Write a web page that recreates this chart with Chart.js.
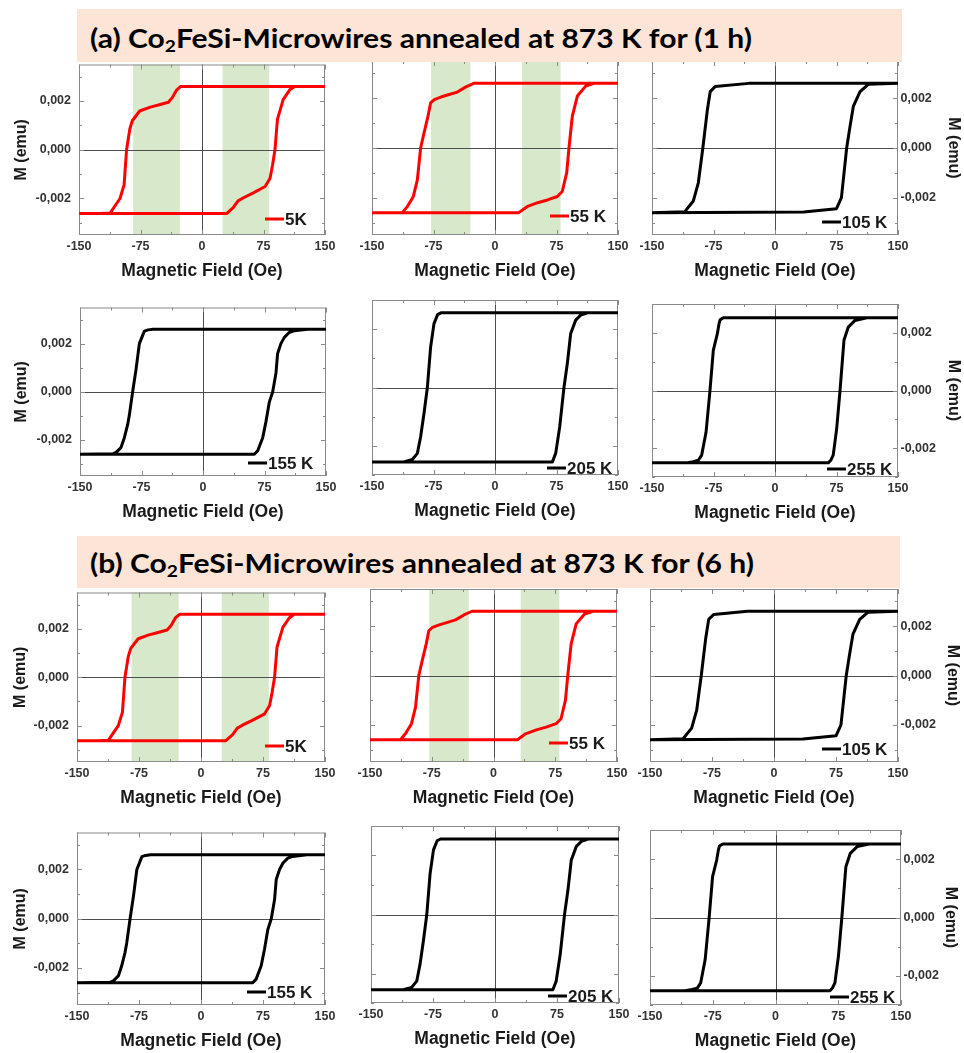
<!DOCTYPE html>
<html>
<head>
<meta charset="utf-8">
<script src="https://cdn.jsdelivr.net/npm/chart.js@4.4.1/dist/chart.umd.min.js"></script>
<style>
html, body { margin: 0; padding: 0; background: #fff; overflow: hidden; }
#page { position: relative; width: 964px; height: 1053px; }
canvas { position: absolute; z-index: 1; }
.band { position: absolute; background: #fce4d6; z-index: 2; }
.band span { position: absolute; left: 13px; font-family: Lato, 'Open Sans', sans-serif; font-weight: 700;
  font-size: 27px; line-height: 27px; white-space: nowrap; color: #000; transform-origin: 0 50%; }
.band sub { font-size: 0.64em; vertical-align: -0.22em; line-height: 0; }
</style>
</head>
<body>
<div id="page">
  <div class="band" style="left:77px;top:9px;width:825px;height:53px"><span style="top:15px">(a) Co<sub>2</sub>FeSi-Microwires annealed at 873 K for (1 h)</span></div>
  <div class="band" style="left:77px;top:536px;width:823px;height:52px"><span style="top:13px">(b) Co<sub>2</sub>FeSi-Microwires annealed at 873 K for (6 h)</span></div>
</div>
<script>
// axis ticks
const fieldTicks = [-150, -75, 0, 75, 150];
const fieldMinor = [-112.5, -37.5, 37.5, 112.5];
const momentTicks = [-0.002, 0, 0.002];
const momentMinor = [-0.003, -0.001, 0.001, 0.003];

// hysteresis loops: descending branch (+150 -> -150) then ascending branch (-150 -> +150)
const field5K = [150, -26, -31, -36, -41, -52, -63, -76, -85, -88, -92, -95, -100, -106, -112, -124, -150,
                 -150, 30, 38, 44, 50, 62, 77, 83, 86, 89, 92, 99, 107, 113, 150];
const moment5K = [0.0026, 0.0026, 0.00245, 0.00215, 0.00195, 0.00185, 0.00175, 0.00159, 0.00119, 0.00085, 0, -0.00144, -0.002, -0.0023, -0.0026, -0.00262, -0.00262,
                  -0.00262, -0.00262, -0.00238, -0.0021, -0.00198, -0.00178, -0.00151, -0.00117, -0.00063, 0, 0.00125, 0.00206, 0.00246, 0.0026, 0.0026];

const field55K = [150, -26, -36, -46, -58, -66, -74, -78.5, -81.7, -86.6, -90.7, -94.7, -99.6, -107, -113, -150,
                  -150, 29, 39, 52, 64, 76, 82, 87.4, 90.2, 94.3, 100.4, 110.6, 120.7, 150];
const moment55K = [0.0026, 0.0026, 0.00245, 0.00225, 0.00213, 0.00205, 0.00195, 0.00182, 0.00128, 0.0006, 0, -0.00128, -0.00195, -0.00236, -0.0026, -0.0026,
                   -0.0026, -0.0026, -0.00236, -0.0022, -0.00209, -0.00195, -0.00175, -0.001, 0, 0.00128, 0.00209, 0.00249, 0.0026, 0.0026];

const field105K = [150, -32, -73, -79, -82.5, -88, -93.5, -99.6, -110, -150,
                   -150, 35, 75, 81, 87.4, 91.5, 95.5, 103.7, 113.8, 150];
const moment105K = [0.0026, 0.0026, 0.00247, 0.00227, 0.00153, 0, -0.0014, -0.00213, -0.00256, -0.0026,
                    -0.0026, -0.00257, -0.00244, -0.002, 0, 0.00087, 0.00167, 0.00227, 0.00256, 0.0026];

const field155K = [150, -61, -67, -71.5, -77.6, -81.7, -85.8, -89.8, -91.9, -95.9, -100, -106, -110, -150,
                   -150, 62.6, 66.7, 72.8, 76.8, 80.9, 85, 89, 91, 95, 99.2, 105, 111, 128, 150];
const moment155K = [0.0026, 0.0026, 0.00257, 0.00252, 0.002, 0.00092, 0, -0.00097, -0.00137, -0.00191, -0.00232, -0.00252, -0.00258, -0.0026,
                    -0.0026, -0.0026, -0.00245, -0.00191, -0.00124, -0.00043, 0, 0.00078, 0.00159, 0.002, 0.00226, 0.00246, 0.00253, 0.0026, 0.0026];

const field205K = [150, -66, -70, -74.4, -78.5, -82.5, -86.6, -90.7, -94.7, -100.8, -111, -150,
                   -150, 70, 74, 78.9, 84.1, 88.2, 92.3, 98.4, 104.5, 112.6, 150];
const moment205K = [0.00256, 0.00256, 0.0025, 0.00219, 0.00139, 0, -0.00089, -0.00169, -0.00226, -0.00247, -0.00255, -0.00255,
                    -0.00255, -0.00255, -0.00226, -0.00135, 0, 0.00082, 0.00185, 0.00231, 0.00248, 0.00256, 0.00256];

const field255K = [150, -63, -67, -68.3, -70.3, -75.2, -79.3, -84.1, -89.4, -93.5, -99.6, -108, -150,
                   -150, 65, 68, 71, 75.2, 79.3, 84.1, 89.4, 97.6, 112, 150];
const moment255K = [0.00252, 0.00252, 0.00245, 0.00231, 0.00197, 0.0014, 0, -0.00145, -0.00224, -0.00242, -0.00247, -0.00251, -0.00251,
                    -0.00251, -0.00251, -0.00242, -0.00224, -0.00133, 0, 0.00174, 0.0022, 0.00243, 0.00252, 0.00252];

// shaded field ranges (Oe)
const shadeFrom5K = [-84, 25];
const shadeTo5K = [-27, 82];
const shadeFrom55K = [-78, 33];
const shadeTo55K = [-30, 80];

const RED = '#ff0000';
const BLACK = '#000000';
const FONT = "'Liberation Sans', Arial, Helvetica, sans-serif";

const loops = {
  '5K':   {label: '5K',    field: field5K,   moment: moment5K,   color: RED,   shadeFrom: shadeFrom5K,  shadeTo: shadeTo5K,  yMax: 0.0035},
  '55K':  {label: '55 K',  field: field55K,  moment: moment55K,  color: RED,   shadeFrom: shadeFrom55K, shadeTo: shadeTo55K, yMax: 0.0035},
  '105K': {label: '105 K', field: field105K, moment: moment105K, color: BLACK, shadeFrom: [], shadeTo: [], yMax: 0.0035},
  '155K': {label: '155 K', field: field155K, moment: moment155K, color: BLACK, shadeFrom: [], shadeTo: [], yMax: 0.0035},
  '205K': {label: '205 K', field: field205K, moment: moment205K, color: BLACK, shadeFrom: [], shadeTo: [], yMax: 0.003},
  '255K': {label: '255 K', field: field255K, moment: moment255K, color: BLACK, shadeFrom: [], shadeTo: [], yMax: 0.003}
};

// plot boxes [left, top, right, bottom] on the page, legend offset from bottom-right corner
const panels = [
  {loop: '5K',   col: 1, box: [79, 61, 325, 235],   leg: [-60, -16], titleX: 22},
  {loop: '55K',  col: 2, box: [372, 61, 618, 235],  leg: [-68, -19]},
  {loop: '105K', col: 3, box: [652, 61, 898, 235],  leg: [-76, -13], titleX: 953},
  {loop: '155K', col: 1, box: [80, 304, 326, 476],  leg: [-78, -13], titleX: 22},
  {loop: '205K', col: 2, box: [372, 300, 618, 475], leg: [-71, -7]},
  {loop: '255K', col: 3, box: [652, 304, 898, 477], leg: [-71, -8],  titleX: 953},
  {loop: '5K',   col: 1, box: [77, 589, 325, 762],  leg: [-60, -16], titleX: 21},
  {loop: '55K',  col: 2, box: [370, 589, 617, 762], leg: [-68, -19]},
  {loop: '105K', col: 3, box: [650, 589, 898, 762], leg: [-76, -13], titleX: 952},
  {loop: '155K', col: 1, box: [77, 829, 325, 1005], leg: [-78, -13], titleX: 21},
  {loop: '205K', col: 2, box: [371, 826, 619, 1003], leg: [-71, -7]},
  {loop: '255K', col: 3, box: [650, 830, 901, 1005], leg: [-71, -8], titleX: 950}
];

function fmtMoment(v) {
  const s = Math.abs(v).toFixed(3).replace('.', ',');
  return v < -1e-9 ? '-' + s : s;
}

function makeDecor(L, p) {
  return {
    id: 'decor',
    beforeDatasetsDraw(chart) {
      const {ctx, chartArea: a, scales: {x, y}} = chart;
      ctx.save();
      ctx.fillStyle = '#d8e9cb';
      L.shadeFrom.forEach((h, i) => {
        const x0 = x.getPixelForValue(h), x1 = x.getPixelForValue(L.shadeTo[i]);
        ctx.fillRect(x0, a.top, x1 - x0, a.bottom - a.top);
      });
      // zero lines
      ctx.strokeStyle = '#4d4d4d';
      ctx.lineWidth = 1;
      const zx = Math.round(x.getPixelForValue(0)) + 0.5;
      const zy = Math.round(y.getPixelForValue(0)) + 0.5;
      ctx.beginPath();
      ctx.moveTo(zx, a.top); ctx.lineTo(zx, a.bottom);
      ctx.moveTo(a.left, zy); ctx.lineTo(a.right, zy);
      ctx.stroke();
      // frame and inward ticks
      ctx.strokeStyle = '#8a8a8a';
      ctx.strokeRect(a.left + 0.5, a.top + 0.5, a.width - 1, a.height - 1);
      ctx.beginPath();
      const xt = (vals, len) => vals.forEach(v => {
        const px = Math.round(x.getPixelForValue(v)) + 0.5;
        ctx.moveTo(px, a.bottom); ctx.lineTo(px, a.bottom - len);
        ctx.moveTo(px, a.top); ctx.lineTo(px, a.top + len);
      });
      const yt = (vals, len) => vals.forEach(v => {
        const py = Math.round(y.getPixelForValue(v)) + 0.5;
        ctx.moveTo(a.left, py); ctx.lineTo(a.left + len, py);
        ctx.moveTo(a.right, py); ctx.lineTo(a.right - len, py);
      });
      xt(fieldTicks, 5); xt(fieldMinor, 3);
      yt(momentTicks, 5); yt(momentMinor, 3);
      ctx.stroke();
      ctx.restore();
    },
    afterDatasetsDraw(chart) {
      const {ctx, chartArea: a} = chart;
      const lx = a.right + p.leg[0], ly = a.bottom + p.leg[1];
      ctx.save();
      ctx.strokeStyle = L.color;
      ctx.lineWidth = 3;
      ctx.beginPath();
      ctx.moveTo(lx, ly); ctx.lineTo(lx + 19, ly);
      ctx.stroke();
      ctx.fillStyle = '#1a1a1a';
      ctx.font = 'bold 17px ' + FONT;
      ctx.textBaseline = 'middle';
      ctx.textAlign = 'left';
      ctx.fillText(L.label, lx + 20, ly + 1);
      ctx.restore();
    }
  };
}

const page = document.getElementById('page');

panels.forEach((p) => {
  const L = loops[p.loop];
  const [left, top, right, bottom] = p.box;
  const cx0 = p.col === 1 ? 0 : left - 20;
  const cx1 = p.col === 3 ? 964 : right + 22;
  const cy0 = top - 12, cy1 = bottom + 52;
  const cv = document.createElement('canvas');
  cv.width = cx1 - cx0;
  cv.height = cy1 - cy0;
  cv.style.left = cx0 + 'px';
  cv.style.top = cy0 + 'px';
  cv.style.width = (cx1 - cx0) + 'px';
  cv.style.height = (cy1 - cy0) + 'px';
  page.appendChild(cv);

  const yW = p.col === 3 ? cx1 - right : left - cx0;
  const titleLH = 16 * 1.2;
  let titlePad = 0;
  if (p.col === 1) titlePad = p.titleX - cx0 - titleLH / 2;
  if (p.col === 3) titlePad = cx1 - p.titleX - titleLH / 2;

  new Chart(cv, {
    type: 'scatter',
    data: {
      datasets: [{
        label: L.label,
        data: L.field.map((h, i) => ({x: h, y: L.moment[i]})),
        showLine: true,
        borderColor: L.color,
        backgroundColor: L.color,
        borderWidth: 3,
        pointRadius: 0,
        pointHoverRadius: 0,
        tension: 0,
        borderJoinStyle: 'round',
        borderCapStyle: 'round'
      }]
    },
    options: {
      responsive: false,
      maintainAspectRatio: false,
      devicePixelRatio: 1,
      animation: false,
      events: [],
      layout: {
        padding: {
          left: p.col === 3 ? left - cx0 : 0,
          right: p.col === 3 ? 0 : cx1 - right,
          top: 12,
          bottom: 0
        }
      },
      plugins: {legend: {display: false}, tooltip: {enabled: false}},
      scales: {
        x: {
          type: 'linear', position: 'bottom', min: -150, max: 150,
          afterBuildTicks: (s) => { s.ticks = fieldTicks.map(v => ({value: v})); },
          afterFit: (s) => { s.height = 52; },
          grid: {display: false, drawTicks: false},
          border: {display: false},
          ticks: {autoSkip: false, maxRotation: 0, padding: 4.5, color: '#333',
                  font: {family: FONT, size: 12.5, weight: 'bold'}},
          title: {display: true, text: 'Magnetic Field (Oe)', color: '#1a1a1a',
                  font: {family: FONT, size: 17.5, weight: 'bold'}, padding: {top: 0, bottom: 5.5}}
        },
        y: {
          type: 'linear', position: p.col === 3 ? 'right' : 'left', min: -L.yMax, max: L.yMax,
          afterBuildTicks: (s) => { s.ticks = momentTicks.map(v => ({value: v})); },
          afterFit: (s) => { s.width = yW; },
          grid: {display: false, drawTicks: false},
          border: {display: false},
          ticks: {display: p.col !== 2, padding: p.col === 3 ? 2.5 : 8, color: '#333',
                  font: {family: FONT, size: 12.5, weight: 'bold'}, callback: (v) => fmtMoment(v)},
          title: {display: p.col !== 2, text: 'M (emu)', color: '#1a1a1a',
                  font: {family: FONT, size: 16, weight: 'bold'}, padding: {top: titlePad, bottom: 0}}
        }
      }
    },
    plugins: [makeDecor(L, p)]
  });
});

// squeeze the header text to the width of the original caption
const spans = document.querySelectorAll('.band span');
const k = 662 / spans[0].getBoundingClientRect().width;
spans.forEach(s => { s.style.transform = 'scaleX(' + k + ')'; });
</script>
</body>
</html>
